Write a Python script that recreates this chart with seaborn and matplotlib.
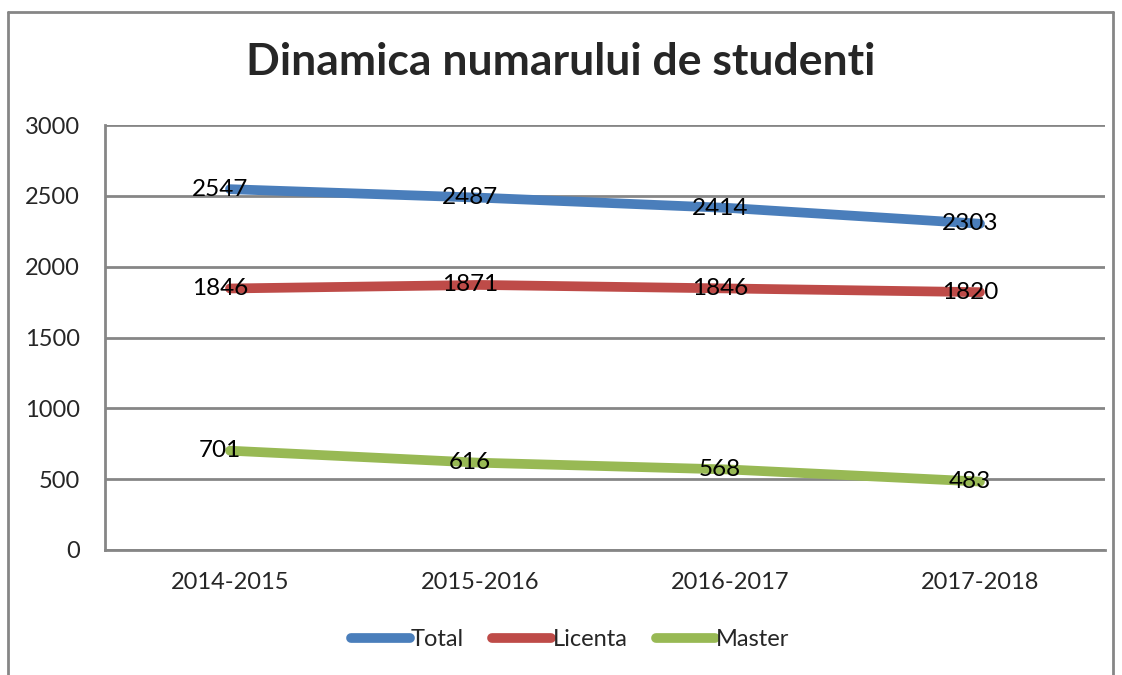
import matplotlib
matplotlib.use("Agg")
import matplotlib.pyplot as plt
import seaborn as sns
import pandas as pd

# data
years = ["2014-2015", "2015-2016", "2016-2017", "2017-2018"]
total = [2547, 2487, 2414, 2303]
licenta = [1846, 1871, 1846, 1820]
master = [701, 616, 568, 483]

series_names = ["Total", "Licenta", "Master"]
colors = ["#4a7ebb", "#be4b48", "#98b954"]

df = pd.DataFrame({
    "An": years * 3,
    "Valoare": total + licenta + master,
    "Serie": [s for s in series_names for _ in years],
})
df["x"] = df["An"].map({y: i for i, y in enumerate(years)})

sns.set_style("white")
plt.rcParams["font.family"] = ["Lato", "DejaVu Sans"]

fig = plt.figure(figsize=(11.22, 6.75), dpi=100)
ax = fig.add_axes([105 / 1122, 1 - 550 / 675, 1000 / 1122, 425 / 675])

sns.lineplot(data=df, x="x", y="Valoare", hue="Serie", palette=colors,
             linewidth=7, solid_capstyle="round", ax=ax, legend=True)

# data labels
for _, r in df.iterrows():
    ax.text(r["x"] - 0.04, r["Valoare"], str(r["Valoare"]), ha="center", va="center",
            fontsize=17.5, color="black", zorder=5)

ax.set_xlim(-0.5, 3.5)
ax.set_ylim(0, 3000)
ax.set_yticks(range(0, 3001, 500))
ax.set_xticks(range(len(years)))
ax.set_xticklabels(years)
ax.tick_params(axis="both", labelsize=17, length=0)
ax.tick_params(axis="x", pad=16)
ax.tick_params(axis="y", pad=18)
ax.set_xlabel("")
ax.set_ylabel("")
ax.grid(axis="y", color="#868686", linewidth=2)
ax.set_axisbelow(True)
for side in ["top", "right"]:
    ax.spines[side].set_visible(False)
for side in ["left", "bottom"]:
    ax.spines[side].set_color("#868686")
    ax.spines[side].set_linewidth(2)

fig.text(0.5, 1 - 62 / 675, "Dinamica numarului de studenti", ha="center", va="center",
         fontsize=32, fontweight="bold")

leg = ax.legend(loc="center", bbox_to_anchor=(0.508, 1 - 640 / 675), bbox_transform=fig.transFigure,
                ncol=3, frameon=False, fontsize=17, handlelength=2.5, handletextpad=0.05,
                columnspacing=1.2)
for line in leg.get_lines():
    line.set_linewidth(7)
    line.set_solid_capstyle("round")

# outer chart frame
frame_kw = dict(color="#868686", linewidth=2, transform=fig.transFigure)
fig.add_artist(plt.Line2D([8 / 1122, 8 / 1122], [0, 1 - 12 / 675], **frame_kw))
fig.add_artist(plt.Line2D([8 / 1122, 1113 / 1122], [1 - 12 / 675, 1 - 12 / 675], **frame_kw))
fig.add_artist(plt.Line2D([1113 / 1122, 1113 / 1122], [0, 1 - 12 / 675], **frame_kw))

fig.savefig("out.png", dpi=100)
